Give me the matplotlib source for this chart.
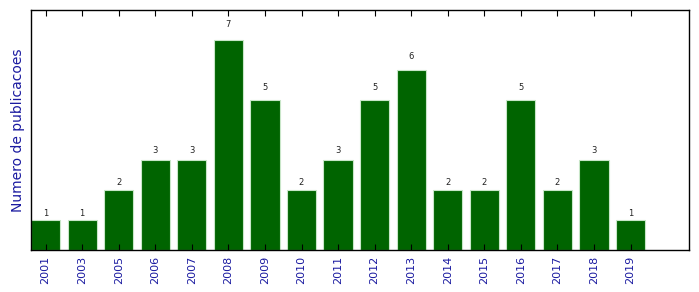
import matplotlib
matplotlib.use("Agg")
import matplotlib.pyplot as plt
import numpy as np

years = ["2001", "2003", "2005", "2006", "2007", "2008", "2009", "2010", "2011",
         "2012", "2013", "2014", "2015", "2016", "2017", "2018", "2019"]
counts = [1, 1, 2, 3, 3, 7, 5, 2, 3, 5, 6, 2, 2, 5, 2, 3, 1]

fig = plt.figure(figsize=(6.99, 2.92), dpi=100)
ax = fig.add_axes([31/699, 1-250/292, (689-31)/699, 240/292])

x = np.arange(len(years))
width = 0.8
bars = ax.bar(x, counts, width=width, align='edge', color='#006400',
              edgecolor='#c8e6c8', linewidth=0.8)
for xi, v in zip(x, counts):
    ax.text(xi + width/2, 1.05*v, str(v), ha='center', va='bottom',
            fontsize=6, color='#222222')

ax.set_xlim(0, 18)
ax.set_ylim(0, 8)
ax.set_xticks(x + width/2)
ax.set_xticklabels(years, rotation=90, fontsize=8, color='#1a1aa0')
ax.set_yticks([])
ax.tick_params(axis='x', direction='in', top=True, bottom=True, length=4, width=0.8, pad=4)
ax.set_ylabel("Numero de publicacoes", fontsize=10, color='#1a1aa0', labelpad=4)
for s in ax.spines.values():
    s.set_linewidth(1.0)
    s.set_color('black')

fig.savefig("out.png", dpi=100)
